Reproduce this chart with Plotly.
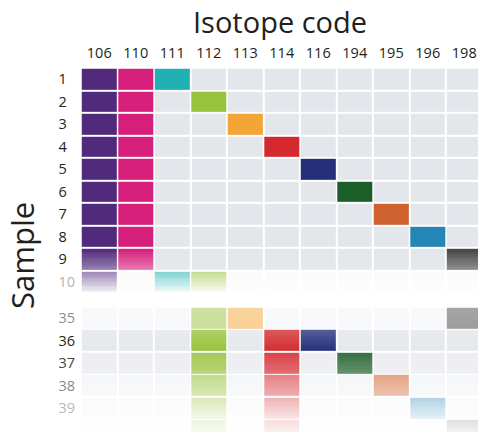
import numpy as np
import plotly.graph_objects as go

# ---------------- data ----------------
isotopes = ["106", "110", "111", "112", "113", "114", "116", "194", "195", "196", "198"]
isotope_colors = ["#512a7c", "#d61f7b", "#22b1b3", "#97c23c", "#f3a535", "#d42a2f",
                  "#243079", "#1c5e2a", "#d0622f", "#2486b5", "#444444"]
samples = [1, 2, 3, 4, 5, 6, 7, 8, 9, 10, 35, 36, 37, 38, 39, 40]
sample_codes = [
    ["106", "110", "111"],
    ["106", "110", "112"],
    ["106", "110", "113"],
    ["106", "110", "114"],
    ["106", "110", "116"],
    ["106", "110", "194"],
    ["106", "110", "195"],
    ["106", "110", "196"],
    ["106", "110", "198"],
    ["106", "111", "112"],
    ["112", "113", "198"],
    ["112", "114", "116"],
    ["112", "114", "194"],
    ["112", "114", "195"],
    ["112", "114", "196"],
    ["112", "114", "198"],
]
# visibility (fade) of the coloured cells at top / bottom of each row
fade_top = [1, 1, 1, 1, 1, 1, 1, 1, 1.0, 0.58, 0.48, 0.78, 0.88, 0.58, 0.36, 0.16]
fade_bottom = [1, 1, 1, 1, 1, 1, 1, 1, 0.6, 0.06, 0.52, 1.0, 0.68, 0.38, 0.12, 0.0]
# visibility of the grey background cells
bg_top = [1, 1, 1, 1, 1, 1, 1, 1, 1.0, 0.20, 0.22, 0.78, 0.72, 0.35, 0.15, 0.05]
bg_bottom = [1, 1, 1, 1, 1, 1, 1, 1, 0.9, 0.03, 0.28, 0.92, 0.58, 0.25, 0.08, 0.0]
label_colors = ["#231f20"] * 9 + ["#b4b4b4", "#8c8c8c", "#231f20", "#444444",
                                  "#8c8c8c", "#b8b8b8", "#d0d0d0"]

# ---------------- layout constants ----------------
W, H = 478, 432
ML, MT = 81, 68
COL_W, ROW_H = 36.5, 22.5
BREAK = 0.62          # extra space between sample 10 and 35 (in rows)
SUB = 8               # sub-rows for vertical shading
GX = 1.6 / COL_W
GY = 1.6 / ROW_H
BG_GREY = "#e3e6ea"

row_pos = [i if i < 10 else i + BREAK for i in range(len(samples))]

# y edges (with transparent gap bricks between rows)
y_edges = [row_pos[0] - 0.5 + GY / 2]
cells = []
for i, p in enumerate(row_pos):
    e = np.linspace(p - 0.5 + GY / 2, p + 0.5 - GY / 2, SUB + 1)
    for k in range(SUB):
        y_edges.append(float(e[k + 1]))
        cells.append((i, (k + 0.5) / SUB))
    if i < len(row_pos) - 1:
        y_edges.append(row_pos[i + 1] - 0.5 + GY / 2)
        cells.append(None)

ncol = len(isotopes)
x_edges_all = []
xcells = []
for c in range(ncol):
    x_edges_all.append(c - 0.5 + GX / 2)
    if c > 0:
        xcells.append(None)
    x_edges_all.append(c + 0.5 - GX / 2)
    xcells.append(c)

fig = go.Figure()

# background grey cells
zbg = []
for cell in cells:
    row = []
    for xc in xcells:
        if cell is None or xc is None:
            row.append(None)
        else:
            i, t = cell
            row.append(bg_top[i] + (bg_bottom[i] - bg_top[i]) * t)
    zbg.append(row)
fig.add_trace(go.Heatmap(
    x=x_edges_all, y=y_edges, z=zbg, zmin=0, zmax=1,
    colorscale=[[0, "#ffffff"], [1, BG_GREY]], showscale=False, hoverinfo="skip"))

# coloured cells, one trace per isotope
for c, (iso, col) in enumerate(zip(isotopes, isotope_colors)):
    z = []
    for cell in cells:
        if cell is None:
            z.append([None])
            continue
        i, t = cell
        if iso in sample_codes[i]:
            z.append([fade_top[i] + (fade_bottom[i] - fade_top[i]) * t])
        else:
            z.append([None])
    fig.add_trace(go.Heatmap(
        x=[c - 0.5 + GX / 2, c + 0.5 - GX / 2], y=y_edges, z=z, zmin=0, zmax=1,
        colorscale=[[0, "#ffffff"], [1, col]], showscale=False, hoverinfo="skip",
        name=iso))

plot_w = W - ML
plot_h = H - MT
x_range = [-0.5, -0.5 + plot_w / COL_W]
y_range = [-0.5 + plot_h / ROW_H, -0.5]

ticktext = []
for s, lc in zip(samples, label_colors):
    t = str(s) if s >= 10 else str(s) + "\u2007"
    ticktext.append(f'<span style="color:{lc}">{t}</span>')

FONT = "Open Sans"
fig.update_layout(
    width=W, height=H,
    margin=dict(l=ML, r=0, t=MT, b=0, pad=0, autoexpand=False),
    paper_bgcolor="white", plot_bgcolor="white",
    font=dict(family=FONT, color="#231f20"),
    xaxis=dict(range=x_range, side="top", tickvals=list(range(ncol)), ticktext=isotopes,
               showgrid=False, zeroline=False, showline=False, ticks="", automargin=False,
               tickfont=dict(size=14.5, color="#231f20"), ticklabelstandoff=6, fixedrange=True),
    yaxis=dict(range=y_range, tickvals=row_pos, ticktext=ticktext, automargin=False,
               showgrid=False, zeroline=False, showline=False, ticks="",
               tickfont=dict(size=14.5, color="#231f20"), ticklabelstandoff=5, fixedrange=True),
    showlegend=False,
    annotations=[
        dict(text="Isotope code", xref="paper", yref="paper",
             x=(280 - ML) / plot_w, y=(H - 21) / plot_h, xanchor="center", yanchor="middle",
             showarrow=False, font=dict(size=29, color="#231f20", family=FONT)),
        dict(text="Sample", xref="paper", yref="paper",
             x=(22 - ML) / plot_w, y=(H - 256) / plot_h, xanchor="center", yanchor="middle",
             textangle=-90, showarrow=False, font=dict(size=31, color="#231f20", family=FONT)),
    ],
)

fig.write_html("out.html", config={"displayModeBar": False},
               post_script="document.body.style.margin='0';document.body.style.overflow='hidden';")
